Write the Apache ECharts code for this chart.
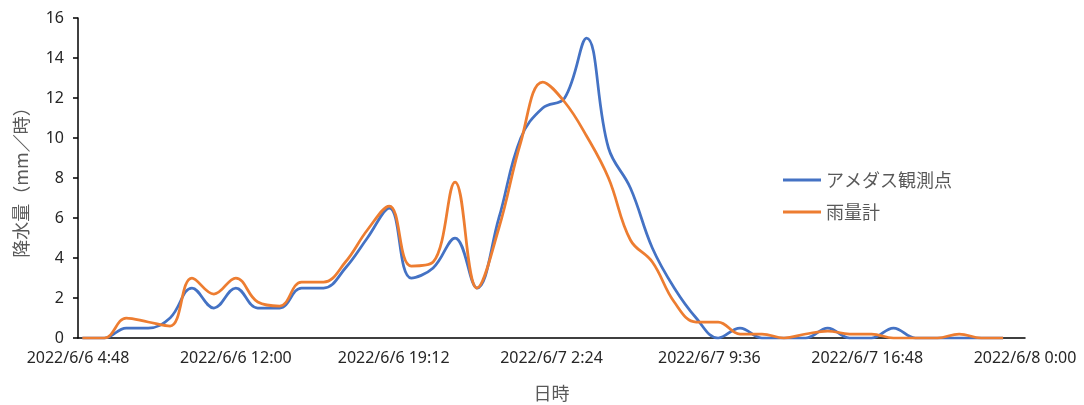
<!DOCTYPE html>
<html>
<head>
<meta charset="utf-8">
<script src="https://cdn.jsdelivr.net/npm/echarts@6/dist/echarts.min.js"></script>
<style>
html,body{margin:0;padding:0;background:#fff;}
#c{width:1084px;height:405px;}
</style>
</head>
<body>
<div id="c"></div>
<script>
// Hours since 2022/6/6 0:00 (hourly observations, 6/6 5:00 to 6/7 23:00)
const hours = [5,6,7,8,9,10,11,12,13,14,15,16,17,18,19,20,21,22,23,
  24,25,26,27,28,29,30,31,32,33,34,35,36,37,38,39,40,41,42,43,44,45,46,47];
const amedas = [0,0,0.5,0.5,1.0,2.5,1.5,2.5,1.5,1.5,2.5,2.5,3.5,5.0,6.5,3.0,3.5,5.0,2.5,
  6.0,10.0,11.5,12.0,15.0,9.5,7.5,4.5,2.5,1.0,0,0.5,0,0,0,0.5,0,0,0.5,0,0,0,0,0];
const gauge = [0,0,1.0,0.8,0.6,3.0,2.2,3.0,1.8,1.6,2.8,2.8,3.8,5.4,6.6,3.6,3.8,7.8,2.5,
  5.5,9.8,12.8,11.8,10.1,8.0,4.9,3.8,1.8,0.8,0.8,0.2,0.2,0,0.2,0.35,0.2,0.2,0,0,0,0.2,0,0];
const tickLabels = ['2022/6/6 4:48','2022/6/6 12:00','2022/6/6 19:12','2022/6/7 2:24',
  '2022/6/7 9:36','2022/6/7 16:48','2022/6/8 0:00'];
const seriesNames = ['アメダス観測点','雨量計'];
const axisStartHour = 4.8;   // 2022/6/6 4:48
const tickStep = 7.2;        // hours between ticks

const txtFont = "'Noto Sans', 'Noto Sans CJK JP', sans-serif";
const jpFont = "'Noto Sans CJK JP', sans-serif";

const chart = echarts.init(document.getElementById('c'), null, {renderer:'canvas'});
const toPts = arr => hours.map((h,i)=>[h-axisStartHour, arr[i]]);

chart.setOption({
  animation:false,
  backgroundColor:'#ffffff',
  grid:{left:78,right:59,top:18,bottom:67,containLabel:false,outerBoundsMode:'none'},
  legend:{
    orient:'vertical', left:783, top:171, padding:0,
    itemWidth:38, itemHeight:14, itemGap:14,
    textStyle:{fontFamily:jpFont,fontSize:18,lineHeight:18,color:'#595959'},
    data:seriesNames.map(n=>({name:n,icon:'path://M0,6 L38,6 L38,9 L0,9 Z'}))
  },
  xAxis:{
    type:'value', min:0, max:tickStep*(tickLabels.length-1), interval:tickStep,
    name:'日時', nameLocation:'middle', nameGap:46,
    nameTextStyle:{fontFamily:jpFont,fontSize:18,color:'#595959'},
    axisLine:{show:true,lineStyle:{color:'#000',width:1.5}},
    axisTick:{show:false},
    splitLine:{show:false},
    axisLabel:{
      margin:12, fontFamily:txtFont, fontSize:16, color:'#262626',
      showMinLabel:true, showMaxLabel:true,
      formatter:v=>{const k=Math.round(v/tickStep);return tickLabels[k]||'';}
    }
  },
  yAxis:{
    type:'value', min:0, max:16, interval:2,
    name:'降水量（mm／時）', nameLocation:'middle', nameGap:48, nameRotate:90,
    nameTextStyle:{fontFamily:jpFont,fontSize:18,color:'#595959'},
    axisLine:{show:true,lineStyle:{color:'#000',width:1.5}},
    axisTick:{show:true,inside:false,length:5,lineStyle:{color:'#000',width:1.5}},
    splitLine:{show:false},
    axisLabel:{margin:14,fontFamily:txtFont,fontSize:16,color:'#262626'}
  },
  series:[
    {name:seriesNames[0],type:'line',data:toPts(amedas),smooth:0.4,symbol:'none',
     lineStyle:{color:'#4472C4',width:2.75},itemStyle:{color:'#4472C4'},z:2},
    {name:seriesNames[1],type:'line',data:toPts(gauge),smooth:0.4,symbol:'none',
     lineStyle:{color:'#ED7D31',width:2.75},itemStyle:{color:'#ED7D31'},z:3}
  ]
});
</script>
</body>
</html>
